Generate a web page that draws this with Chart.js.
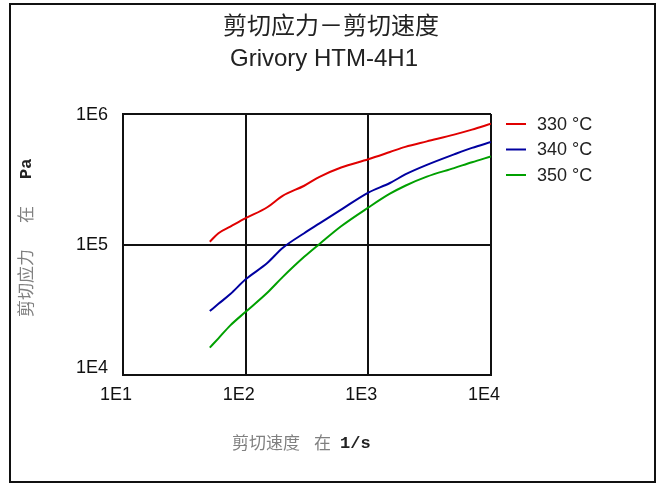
<!DOCTYPE html>
<html>
<head>
<meta charset="utf-8">
<script src="https://cdn.jsdelivr.net/npm/chart.js@4/dist/chart.umd.min.js"></script>
<style>
  html, body { margin: 0; padding: 0; background: #fff; }
  canvas { display: block; }
</style>
</head>
<body>
<canvas id="chart" width="659" height="484"></canvas>
<script>
// shear rate in 1/s, shared by the three curves
var shearRate = [51, 60, 75, 100, 150, 200, 300, 400, 600, 1000, 1500, 2000, 3000, 5000, 7000, 10000];
// shear stress in Pa
var stress330 = [105000, 122000, 137000, 159000, 193000, 236000, 282000, 330000, 389000, 450000, 511000, 560000, 617000, 695000, 759000, 843000];
var stress340 = [30900, 35100, 41700, 54100, 72100, 94000, 122000, 145000, 185000, 250000, 296000, 344000, 407000, 490000, 550000, 610000];
var stress350 = [16200, 19100, 24000, 30500, 42700, 56200, 80400, 101000, 138000, 192000, 245000, 282000, 331000, 385000, 427000, 473000];

var seriesNames = ['330 °C', '340 °C', '350 °C'];
var seriesColors = ['#e00000', '#0000a0', '#00a000'];

var xTicks = [10, 100, 1000, 10000];
var xTickLabels = ['1E1', '1E2', '1E3', '1E4'];
var yTicks = [10000, 100000, 1000000];
var yTickLabels = ['1E4', '1E5', '1E6'];

function points(ys) {
  return shearRate.map(function (x, i) { return { x: x, y: ys[i] }; });
}

Chart.defaults.font.family = "'Liberation Sans', Arial, sans-serif";
Chart.defaults.color = '#111';

var frameAndText = {
  id: 'frameAndText',
  beforeDraw: function (chart) {
    // nudge the lowest y label up so it clears 1E1
    try {
      var items = chart.scales.y.getLabelItems(chart.chartArea);
      items.forEach(function (it) {
        if (it.label === '1E4') it.options.translation[1] -= 8;
      });
    } catch (e) {}
  },
  afterDraw: function (chart) {
    var ctx = chart.ctx;
    ctx.save();

    // outer frame
    ctx.strokeStyle = '#111';
    ctx.lineWidth = 2;
    ctx.strokeRect(10, 4, 645, 478);

    // titles
    ctx.fillStyle = '#222';
    ctx.textAlign = 'center';
    ctx.textBaseline = 'middle';
    ctx.font = "24px 'Noto Sans CJK SC'";
    ctx.fillText('剪切应力－剪切速度', 331, 25);
    ctx.textBaseline = 'alphabetic';
    ctx.font = "24px 'Liberation Sans', Arial, sans-serif";
    ctx.fillText('Grivory HTM-4H1', 324, 66);

    // legend
    ctx.textAlign = 'left';
    ctx.textBaseline = 'middle';
    ctx.font = "18px 'Liberation Sans', Arial, sans-serif";
    seriesNames.forEach(function (name, i) {
      var y = 124 + i * 25.5;
      ctx.strokeStyle = seriesColors[i];
      ctx.lineWidth = 2;
      ctx.beginPath();
      ctx.moveTo(506, y);
      ctx.lineTo(526, y);
      ctx.stroke();
      ctx.fillStyle = '#222';
      ctx.fillText(name, 537, y + 1);
    });

    // x axis title
    ctx.textBaseline = 'middle';
    ctx.fillStyle = '#808080';
    ctx.font = "17px 'Noto Sans CJK SC'";
    ctx.fillText('剪切速度', 232, 443);
    ctx.fillText('在', 314, 443);
    ctx.fillStyle = '#222';
    ctx.font = "bold 17px 'Liberation Mono', monospace";
    ctx.fillText('1/s', 340, 444);

    // y axis title
    ctx.translate(26, 317);
    ctx.rotate(-Math.PI / 2);
    ctx.fillStyle = '#808080';
    ctx.font = "17px 'Noto Sans CJK SC'";
    ctx.fillText('剪切应力', 0, 0);
    ctx.fillText('在', 94, 0);
    ctx.fillStyle = '#222';
    ctx.font = "bold 17px 'Liberation Mono', monospace";
    ctx.fillText('Pa', 138, 1);

    ctx.restore();
  }
};

new Chart(document.getElementById('chart'), {
  type: 'line',
  data: {
    datasets: [
      { label: seriesNames[0], data: points(stress330), borderColor: seriesColors[0] },
      { label: seriesNames[1], data: points(stress340), borderColor: seriesColors[1] },
      { label: seriesNames[2], data: points(stress350), borderColor: seriesColors[2] }
    ]
  },
  options: {
    responsive: false,
    animation: false,
    layout: { padding: { left: 0, top: 114, right: 168, bottom: 0 } },
    elements: {
      line: { borderWidth: 2, cubicInterpolationMode: 'monotone', fill: false },
      point: { radius: 0 }
    },
    plugins: {
      legend: { display: false },
      title: { display: false },
      tooltip: { enabled: false }
    },
    scales: {
      x: {
        type: 'logarithmic',
        min: 10,
        max: 10000,
        afterBuildTicks: function (axis) {
          axis.ticks = xTicks.map(function (v) { return { value: v }; });
        },
        afterFit: function (axis) { axis.height = 109; },
        grid: { color: '#111', lineWidth: 2, drawTicks: false },
        border: { display: true, color: '#111', width: 2 },
        ticks: {
          font: { size: 18 },
          color: '#111',
          padding: 9,
          labelOffset: -7,
          maxRotation: 0,
          autoSkip: false,
          callback: function (v, i) { return xTickLabels[i]; }
        }
      },
      y: {
        type: 'logarithmic',
        min: 10000,
        max: 1000000,
        afterBuildTicks: function (axis) {
          axis.ticks = yTicks.map(function (v) { return { value: v }; });
        },
        afterFit: function (axis) { axis.width = 123; },
        grid: { color: '#111', lineWidth: 2, drawTicks: false },
        border: { display: true, color: '#111', width: 2 },
        ticks: {
          font: { size: 18 },
          color: '#111',
          padding: 15,
          labelOffset: 1,
          autoSkip: false,
          callback: function (v, i) { return yTickLabels[i]; }
        }
      }
    }
  },
  plugins: [frameAndText]
});
</script>
</body>
</html>
